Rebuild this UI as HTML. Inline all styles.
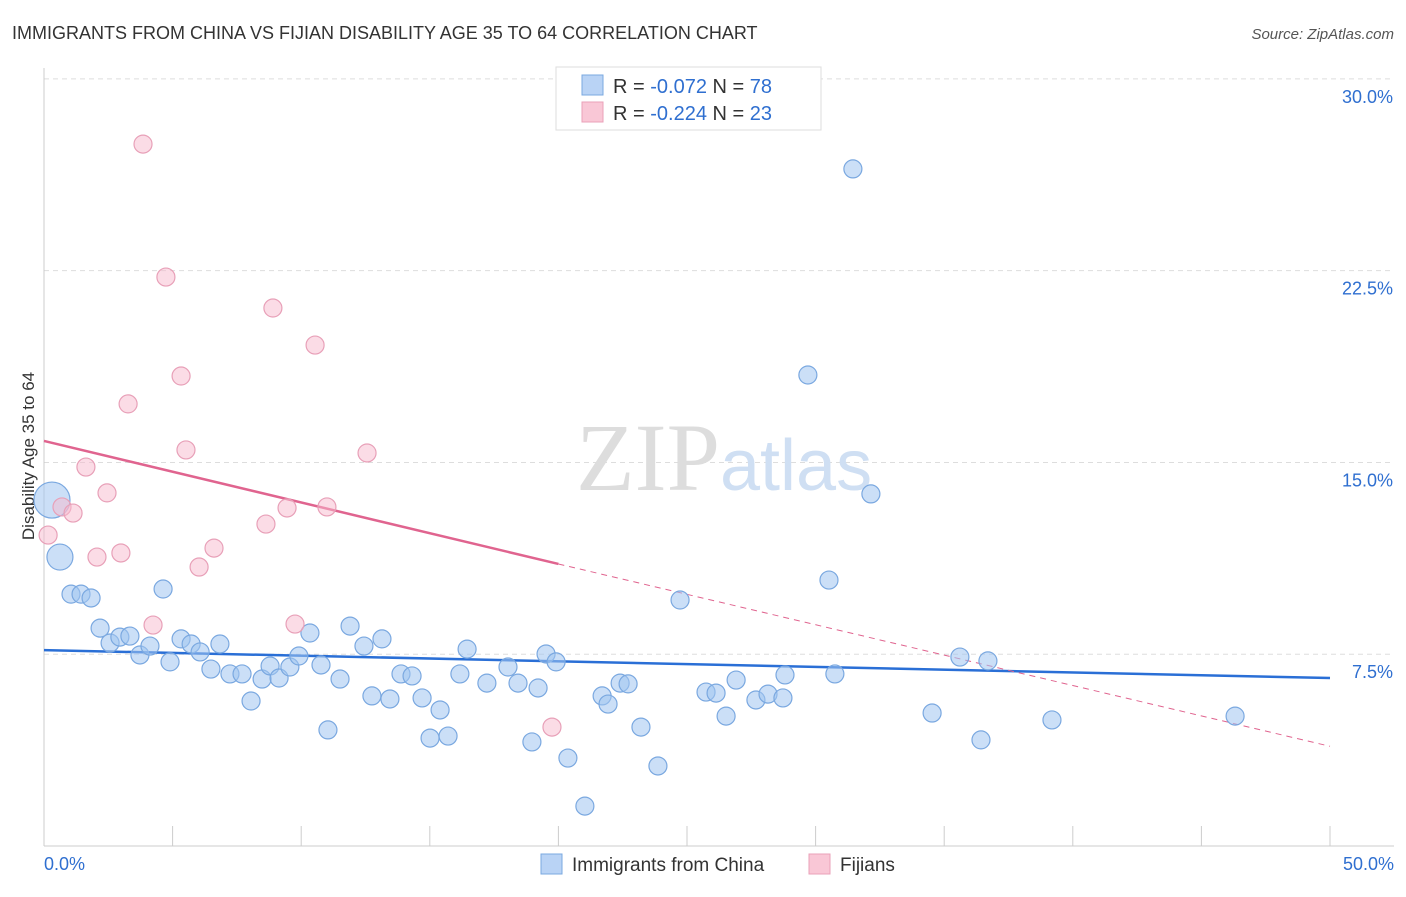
<!DOCTYPE html>
<html><head><meta charset="utf-8"><style>
body{margin:0;background:#fff;font-family:"Liberation Sans",sans-serif;}
svg text{font-family:"Liberation Sans",sans-serif;}
</style></head><body>
<svg id="chart" width="1406" height="892">
<text x="12" y="39" font-size="18" fill="#333">IMMIGRANTS FROM CHINA VS FIJIAN DISABILITY AGE 35 TO 64 CORRELATION CHART</text>
<text x="1394" y="39" font-size="15" fill="#555" font-style="italic" text-anchor="end">Source: ZipAtlas.com</text>
<text x="34" y="456" font-size="17" fill="#333" text-anchor="middle" transform="rotate(-90 34 456)">Disability Age 35 to 64</text>
<g id="grid"></g>
<text x="720" y="490" font-size="96" fill="#ddd" text-anchor="end" font-family="Liberation Serif" style="font-family:'Liberation Serif',serif">ZIP</text>
<text x="720" y="490" font-size="72" fill="#cfdff3">atlas</text>
<g id="lines"></g>
<g id="pts"></g>
<g>
<rect x="556" y="67" width="265" height="63" fill="#fff" stroke="#ddd"/>
<rect x="582" y="75" width="21" height="20" fill="#b9d3f5" stroke="#7aa8e0"/>
<rect x="582" y="102" width="21" height="20" fill="#f9c7d6" stroke="#eaa0b8"/>
<text x="613" y="93" font-size="20" fill="#333">R = <tspan fill="#2f6fd0">-0.072</tspan>   N = <tspan fill="#2f6fd0">78</tspan></text>
<text x="613" y="120" font-size="20" fill="#333">R = <tspan fill="#2f6fd0">-0.224</tspan>   N = <tspan fill="#2f6fd0">23</tspan></text>
</g>
<g>
<rect x="541" y="854" width="21" height="20" fill="#b9d3f5" stroke="#7aa8e0"/>
<text x="572" y="871" font-size="19" fill="#333">Immigrants from China</text>
<rect x="809" y="854" width="21" height="20" fill="#f9c7d6" stroke="#eaa0b8"/>
<text x="840" y="871" font-size="19" fill="#333">Fijians</text>
</g>
<text x="44" y="870" font-size="18" fill="#2f6fd0">0.0%</text>
<text x="1394" y="870" font-size="18" fill="#2f6fd0" text-anchor="end">50.0%</text>
</svg>
<script>
const yTicks=[7.5,15,22.5,30];
const yTickLabels=["7.5%","15.0%","22.5%","30.0%"];
const xTicks=[0,5,10,15,20,25,30,35,40,45,50];
const chinaX=[0.31,0.62,1.05,1.44,1.83,2.18,2.57,2.95,3.34,3.73,4.12,4.63,4.90,5.33,5.72,6.07,6.49,6.84,7.23,7.70,8.05,8.48,8.79,9.14,9.56,9.91,10.34,10.77,11.04,11.51,11.90,12.44,12.75,13.14,13.45,13.88,14.31,14.70,15.01,15.40,15.71,16.17,16.45,17.22,18.04,18.43,18.97,19.21,19.52,19.91,20.37,21.03,21.70,21.93,22.40,22.71,23.21,23.87,24.73,25.74,26.13,26.52,26.91,27.68,28.15,28.73,28.81,29.70,30.52,30.75,31.45,32.15,34.53,35.61,36.43,36.70,39.19,46.31];
const chinaY=[13.53,11.30,9.85,9.85,9.70,8.52,7.94,8.17,8.21,7.47,7.82,10.05,7.20,8.10,7.90,7.59,6.92,7.90,6.73,6.73,5.67,6.53,7.04,6.57,7.00,7.43,8.33,7.08,4.54,6.53,8.60,7.82,5.87,8.10,5.75,6.73,6.65,5.79,4.22,5.32,4.30,6.73,7.70,6.37,7.00,6.37,4.07,6.18,7.51,7.20,3.44,1.56,5.87,5.55,6.37,6.34,4.65,3.13,9.62,6.02,5.98,5.08,6.49,5.71,5.94,5.79,6.69,18.42,10.40,6.73,26.48,13.77,5.20,7.39,4.15,7.24,4.93,5.08];
const chinaR=[18,13];
const fijiX=[0.16,0.70,1.13,1.63,2.06,2.45,2.99,3.27,3.85,4.24,4.74,5.33,5.52,6.03,6.61,8.63,8.90,9.45,9.76,10.54,11.00,12.56,19.75];
const fijiY=[12.16,13.26,13.02,14.82,11.30,13.81,11.46,17.29,27.45,8.64,22.25,18.38,15.49,10.91,11.65,12.59,21.04,13.22,8.68,19.59,13.26,15.37,4.65];
const chinaTrend=[[0,7.66],[50,6.57]];
const fijiTrend=[[0,15.84],[20,11.03],[50,3.9]];
const X=v=>44+v*25.72, Y=v=>846-v*25.57;
const NS="http://www.w3.org/2000/svg";
function mk(p,t,a){const e=document.createElementNS(NS,t);for(const k in a)e.setAttribute(k,a[k]);p.appendChild(e);return e;}
const g=document.getElementById('grid');
yTicks.forEach((t,i)=>{
 const l=mk(g,'line',{x1:44,x2:1394,y1:Y(t),y2:Y(t),stroke:'#ddd','stroke-dasharray':'5,4'});
 
 
 const tx=mk(g,'text',{x:1393,y:Y(t)+24,'font-size':18,fill:'#2f6fd0','text-anchor':'end'});
 tx.textContent=yTickLabels[i];
 
 
});
const ax=mk(g,'line',{x1:44,x2:44,y1:68,y2:846,stroke:'#ccc'});


const bx=mk(g,'line',{x1:44,x2:1394,y1:846,y2:846,stroke:'#ccc'});


xTicks.forEach(t=>{const l=mk(g,'line',{x1:X(t),x2:X(t),y1:826,y2:846,stroke:'#ccc'});
 
 });
const pg=document.getElementById('pts');
chinaX.forEach((x,i)=>{const c=mk(pg,'circle',{cx:X(x),cy:Y(chinaY[i]),r:chinaR[i]||9,fill:'rgba(160,196,240,0.55)',stroke:'#7aa8e0','stroke-width':1.2});
 
 });
fijiX.forEach((x,i)=>{const c=mk(pg,'circle',{cx:X(x),cy:Y(fijiY[i]),r:9,fill:'rgba(247,185,205,0.5)',stroke:'#e8a0b8','stroke-width':1.2});
 
 });
const lg=document.getElementById('lines');
const b=mk(lg,'line',{x1:X(chinaTrend[0][0]),y1:Y(chinaTrend[0][1]),x2:X(chinaTrend[1][0]),y2:Y(chinaTrend[1][1]),stroke:'#2a6fd6','stroke-width':2.5});


const p1=mk(lg,'line',{x1:X(fijiTrend[0][0]),y1:Y(fijiTrend[0][1]),x2:X(fijiTrend[1][0]),y2:Y(fijiTrend[1][1]),stroke:'#e0648f','stroke-width':2.5});


const p2=mk(lg,'line',{x1:X(fijiTrend[1][0]),y1:Y(fijiTrend[1][1]),x2:X(fijiTrend[2][0]),y2:Y(fijiTrend[2][1]),stroke:'#e0648f','stroke-width':1,'stroke-dasharray':'6,5'});


</script>
</body></html>
